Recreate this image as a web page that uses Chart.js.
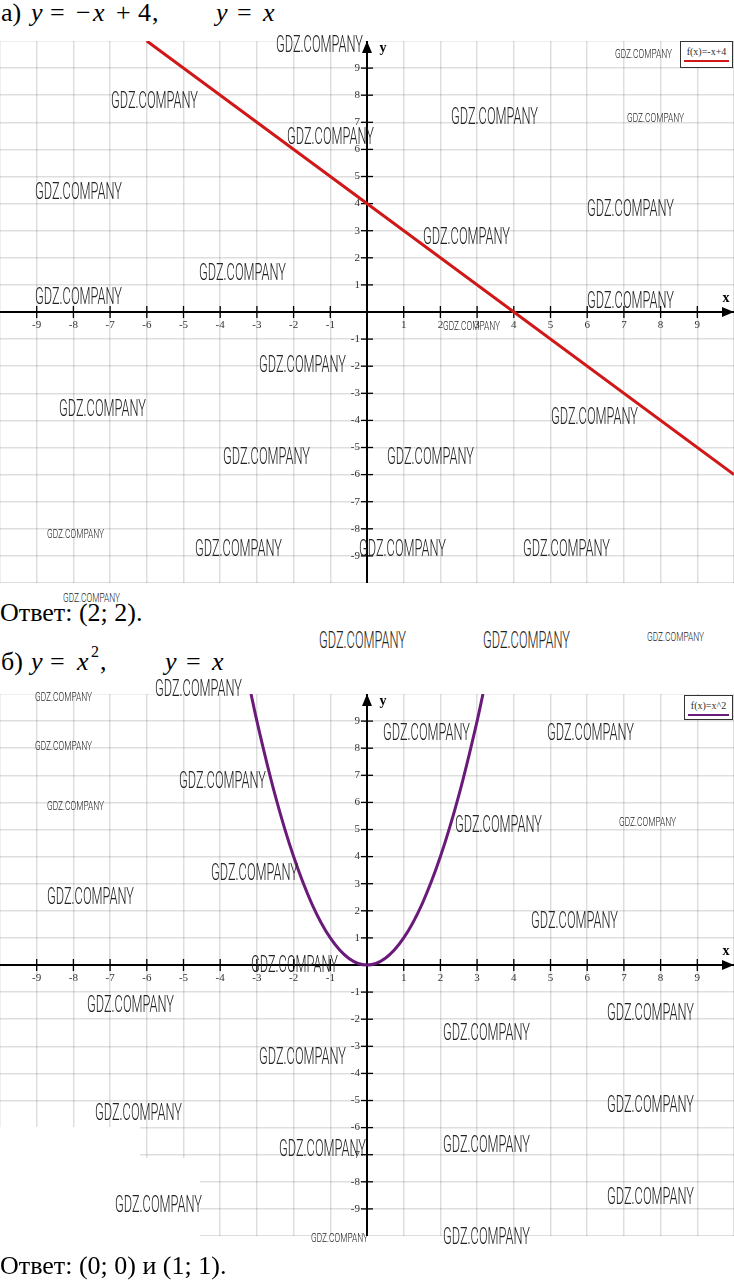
<!DOCTYPE html>
<html><head><meta charset="utf-8">
<script src="https://cdn.jsdelivr.net/npm/chart.js@4.4.1/dist/chart.umd.min.js"></script>
<style>
html,body{margin:0;padding:0;background:#fff;}
body{width:734px;height:1282px;position:relative;overflow:hidden;}
.abs{position:absolute;}
.t{position:absolute;font-family:"Liberation Serif",serif;font-size:26px;color:#000;white-space:pre;line-height:1;}
.tk{position:absolute;font-family:"Liberation Serif",serif;font-size:26px;color:#000;white-space:pre;line-height:1;}
.wm{position:absolute;font-family:"Roboto","Liberation Sans",sans-serif;font-weight:300;color:#222;white-space:nowrap;transform-origin:0 50%;line-height:1;}
.leg{position:absolute;background:#fff;border:1px solid #333;box-sizing:border-box;font-family:"Liberation Serif",serif;font-size:10px;text-align:center;line-height:1;}
.leg span{display:block;margin-top:5px;color:#1f2f2f;}
.leg b{display:block;height:2px;margin:3px 3px 0 3px;}
</style></head>
<body>
<div id="titles"></div>
<canvas id="ca" class="abs" style="left:0;top:41px" width="734" height="542"></canvas>
<div class="t" style="left:0;top:600px">Ответ: (2; 2).</div>
<canvas id="cb" class="abs" style="left:0;top:694px" width="734" height="542"></canvas>
<div class="abs" style="left:0;top:1127px;width:140px;height:113px;background:#fff"></div>
<div class="abs" style="left:140px;top:1158px;width:60px;height:82px;background:#fff"></div>
<div class="t" style="left:0;top:1253px">Ответ: (0; 0) и (1; 1).</div>
<div class="leg" style="left:680px;top:41px;width:53px;height:27px"><span>f(x)=-x+4</span><b style="background:#d01818"></b></div>
<div class="leg" style="left:684px;top:695px;width:49px;height:25px"><span>f(x)=x^2</span><b style="background:#6a1b7a"></b></div>
<script>
// ---- data ----
const tickValues = [-9,-8,-7,-6,-5,-4,-3,-2,-1,1,2,3,4,5,6,7,8,9];
const xTickLabels = ['-9','-8','-7','-6','-5','-4','-3','-2','-1','1','2','3','4','5','6','7','8','9'];
const yTickLabels = ['-9','-8','-7','-6','-5','-4','-3','-2','-1','1','2','3','4','5','6','7','8','9'];
const axisMin = -10, axisMax = 10;
const lineAX = [-6, 10];
const lineAY = [10, -6];
const parabX = [-3.16, -3, -2.5, -2, -1.5, -1, -0.5, 0, 0.5, 1, 1.5, 2, 2.5, 3, 3.16];
const parabY = [10, 9, 6.25, 4, 2.25, 1, 0.25, 0, 0.25, 1, 2.25, 4, 6.25, 9, 10];

// ---- title tokens ----
const titleTokens = [
  ['а)',1,0,false],['y',31,0,true],['=',50,0,false],['−',76,0,false],['x',93,0,true],['+',116,0,false],['4',138,0,false],[',',152,0,false],
  ['y',216,0,true],['=',237,0,false],['x',263,0,true],
  ['б)',1,649,false],['y',31,649,true],['=',50,649,false],['x',77,649,true],[',',100,649,false],
  ['y',165,649,true],['=',186,649,false],['x',212,649,true]
];
const tbox = document.getElementById('titles');
for (const [s, x, y, it] of titleTokens) {
  const d = document.createElement('div'); d.className = 'tk'; d.textContent = s;
  d.style.left = x + 'px'; d.style.top = y + 'px'; if (it) d.style.fontStyle = 'italic';
  tbox.appendChild(d);
}
{ const d = document.createElement('div'); d.className = 'tk'; d.textContent = '2';
  d.style.left = '91px'; d.style.top = '644px'; d.style.fontSize = '16px'; tbox.appendChild(d); }

const zeroPad = s => { s.paddingTop = 0; s.paddingBottom = 0; s.paddingLeft = 0; s.paddingRight = 0; };

const axisDeco = {
  id: 'axisDeco',
  beforeDatasetsDraw(chart) {
    const ctx = chart.ctx, xs = chart.scales.x, ys = chart.scales.y, a = chart.chartArea;
    const x0 = xs.getPixelForValue(0), y0 = ys.getPixelForValue(0);
    ctx.save();
    ctx.strokeStyle = '#000'; ctx.lineWidth = 1.3;
    for (const v of tickValues) {
      const px = xs.getPixelForValue(v);
      ctx.beginPath(); ctx.moveTo(px, y0 - 6); ctx.lineTo(px, y0 + 6); ctx.stroke();
      const py = ys.getPixelForValue(v);
      ctx.beginPath(); ctx.moveTo(x0 - 6, py); ctx.lineTo(x0 + 6, py); ctx.stroke();
    }
    ctx.fillStyle = '#333';
    ctx.font = '11px "Liberation Serif"';
    ctx.textAlign = 'right'; ctx.textBaseline = 'middle';
    tickValues.forEach((v, i) => ctx.fillText(yTickLabels[i], x0 - 7, ys.getPixelForValue(v)));
    ctx.fillStyle = '#000';
    ctx.beginPath(); ctx.moveTo(a.right, y0); ctx.lineTo(a.right - 12, y0 - 5); ctx.lineTo(a.right - 12, y0 + 5); ctx.closePath(); ctx.fill();
    ctx.beginPath(); ctx.moveTo(x0, a.top); ctx.lineTo(x0 - 5, a.top + 12); ctx.lineTo(x0 + 5, a.top + 12); ctx.closePath(); ctx.fill();
    ctx.font = 'bold 14px "Liberation Serif"';
    ctx.textBaseline = 'middle'; ctx.textAlign = 'center';
    ctx.fillText('x', a.right - 8, y0 - 14);
    ctx.fillText('y', x0 + 16, a.top + 7);
    ctx.restore();
  }
};

function makeChart(id, xs, ys, color) {
  const pts = xs.map((x, i) => ({ x, y: ys[i] }));
  const tickCb = labels => v => { const i = tickValues.indexOf(v); return i >= 0 ? labels[i] : ''; };
  return new Chart(document.getElementById(id), {
    type: 'scatter',
    data: { datasets: [{ data: pts, showLine: true, borderColor: color, borderWidth: 3, pointRadius: 0, cubicInterpolationMode: 'monotone', fill: false }] },
    options: {
      responsive: false, animation: false, devicePixelRatio: 1,
      layout: { padding: 0 },
      plugins: { legend: { display: false }, tooltip: { enabled: false } },
      scales: {
        x: {
          type: 'linear', min: axisMin, max: axisMax, position: { y: 0 },
          afterFit: zeroPad,
          grid: { color: 'rgba(0,0,0,0.13)', lineWidth: 1.5, drawTicks: false },
          border: { color: '#000', width: 2 },
          ticks: { stepSize: 1, autoSkip: false, maxRotation: 0, padding: 7, color: '#333', font: { family: 'Liberation Serif', size: 11 }, callback: tickCb(xTickLabels) }
        },
        y: {
          type: 'linear', min: axisMin, max: axisMax, position: { x: 0 },
          afterFit: zeroPad,
          grid: { color: 'rgba(0,0,0,0.13)', lineWidth: 1.5, drawTicks: false },
          border: { color: '#000', width: 2 },
          ticks: { stepSize: 1, autoSkip: false, display: false }
        }
      }
    },
    plugins: [axisDeco]
  });
}
makeChart('ca', lineAX, lineAY, '#d01818');
makeChart('cb', parabX, parabY, '#6a1b7a');

// ---- watermark overlay (decoration) ----
const marks = [
 [276,44,'L'],[111,100,'L'],[287,136,'L'],[451,116,'L'],[615,53,'S'],[627,117,'S'],[35,191,'L'],[587,208,'L'],
 [423,236,'L'],[199,272,'L'],[35,296,'L'],[587,300,'L'],[443,325,'S'],[259,364,'L'],[59,408,'L'],[551,416,'L'],
 [223,456,'L'],[387,456,'L'],[47,533,'S'],[195,548,'L'],[359,548,'L'],[523,548,'L'],[63,597,'S'],
 [319,640,'L'],[483,640,'L'],[647,636,'S'],[155,688,'L'],[35,696,'S'],[35,745,'S'],[47,805,'S'],
 [383,732,'L'],[547,732,'L'],[179,780,'L'],[455,824,'L'],[619,821,'S'],[211,872,'L'],[47,896,'L'],[531,920,'L'],
 [251,964,'L'],[87,1004,'L'],[607,1012,'L'],[443,1032,'L'],[259,1056,'L'],[95,1112,'L'],[607,1104,'L'],
 [279,1148,'L'],[443,1144,'L'],[607,1196,'L'],[115,1204,'L'],[311,1237,'S'],[443,1236,'L']
];
for (const [x, y, s] of marks) {
  const d = document.createElement('div');
  d.className = 'wm'; d.textContent = 'GDZ.COMPANY';
  const fs = s === 'L' ? 23 : 13;
  d.style.fontSize = fs + 'px';
  d.style.left = x + 'px';
  d.style.top = (y - 0.5 * fs) + 'px';
  document.body.appendChild(d);
  const w = d.getBoundingClientRect().width;
  d.style.transform = 'scaleX(' + ((s === 'L' ? 87 : 57) / w) + ')';
}
</script>
</body></html>
